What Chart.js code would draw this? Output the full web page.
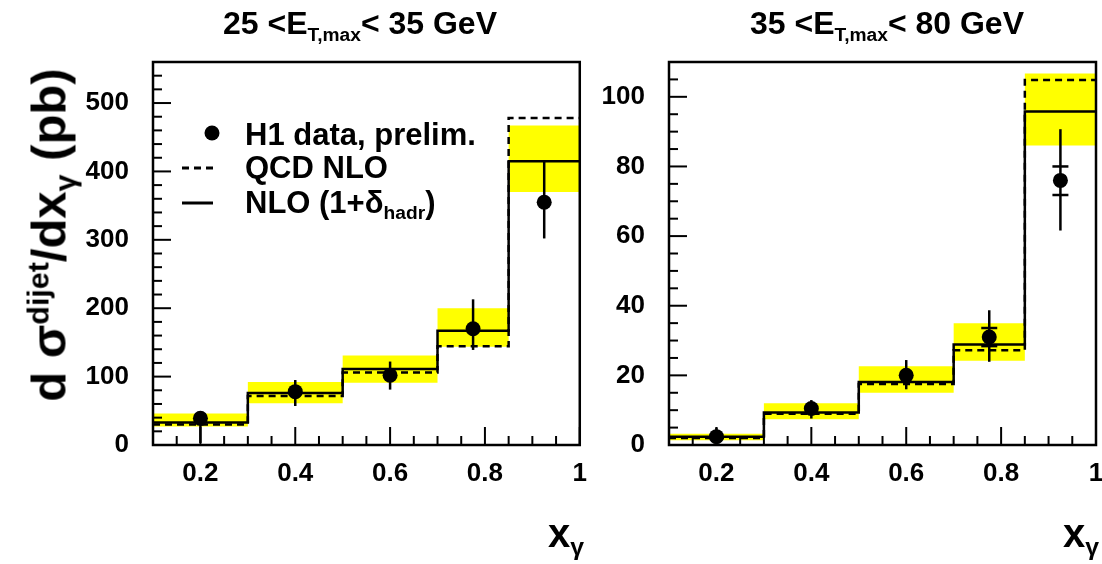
<!DOCTYPE html>
<html>
<head>
<meta charset="utf-8">
<script src="https://cdn.jsdelivr.net/npm/chart.js@4.4.1/dist/chart.umd.min.js"></script>
<style>
  html, body { margin: 0; padding: 0; background: #fff; overflow: hidden; }
  body { width: 1102px; height: 564px; position: relative; font-family: 'Liberation Sans', Arial, sans-serif; font-weight: bold; color: #000; }
  .panel { position: absolute; top: 0; height: 564px; }
  .txt { position: absolute; white-space: nowrap; line-height: 1; z-index: 2; }
  .txt sub { font-size: 0.62em; vertical-align: -0.32em; line-height: 0; }
  .txt sup { font-size: 0.62em; vertical-align: 0.55em; line-height: 0; }
  .title { font-size: 32px; top: 7px; transform: translateX(-50%); }
  .title sub { font-size: 0.6em; vertical-align: -0.35em; }
  .ytitle { font-size: 49px; left: 49px; top: 235px; transform: translate(-50%, -50%) rotate(-90deg); }
  .xtitle { font-size: 40px; top: 513px; }
  .leg { font-size: 31px; left: 245px; }
</style>
</head>
<body>
<div class="panel" style="left:0;width:600px"><canvas id="lowChart"></canvas></div>
<div class="panel" style="left:585px;width:540px"><canvas id="highChart"></canvas></div>

<div class="txt title" style="left:360px">25 &lt;E<sub>T,max</sub>&lt; 35 GeV</div>
<div class="txt title" style="left:887px">35 &lt;E<sub>T,max</sub>&lt; 80 GeV</div>
<div class="txt ytitle">d &sigma;<sup>dijet</sup>/dx<sub>&gamma;</sub> (pb)</div>
<div class="txt xtitle" style="left:548px">x<sub>&gamma;</sub></div>
<div class="txt xtitle" style="left:1063px">x<sub>&gamma;</sub></div>
<div class="txt leg" style="top:119px">H1 data, prelim.</div>
<div class="txt leg" style="top:152px">QCD NLO</div>
<div class="txt leg" style="top:187px">NLO (1+&delta;<sub>hadr</sub>)</div>

<script>
// bin edges and bin centres of x_gamma
const xEdges = [0.1, 0.3, 0.5, 0.7, 0.85, 1.0];
const xCenters = [0.2, 0.4, 0.6, 0.775, 0.925];
const xTickLabels = [0.2, 0.4, 0.6, 0.8, 1];

// 25 < ET,max < 35 GeV
const lowData = [39, 78, 102, 170, 355];
const lowErrDown = [3, 57, 81, 139, 302];
const lowErrUp = [46, 95, 122, 213, 416];
const lowNlo = [30, 71.5, 106, 144.5, 478];
const lowNloHadr = [33, 76, 111, 167, 415];
const lowBandDown = [27, 61, 91, 143.5, 370];
const lowBandUp = [46, 92, 131, 200, 467];
const lowYTicks = [0, 100, 200, 300, 400, 500];

// 35 < ET,max < 80 GeV
const highData = [2.4, 10.5, 20, 31, 76];
const highErrDown = [0.5, 7.6, 16, 23.9, 61.6];
const highErrUp = [5, 12.9, 24.4, 38.7, 90.7];
const highStatDown = [null, null, null, 28.4, 71.8];
const highStatUp = [null, null, null, 33.6, 80];
const highNlo = [2, 9.0, 17.5, 27.2, 104.8];
const highNloHadr = [2.4, 9.3, 18.1, 28.9, 95.8];
const highBandDown = [1.4, 7.4, 15, 24.2, 86];
const highBandUp = [3.2, 12, 22.6, 35, 106.7];
const highYTicks = [0, 20, 40, 60, 80, 100];

const tickFont = { family: "'Liberation Sans', Arial, sans-serif", size: 26, weight: 'bold' };

// histogram as a stepped line: value of each bin held until the next edge
function stepPoints(values) {
    return xEdges.map((x, i) => ({ x, y: values[Math.min(i, values.length - 1)] }));
}

const decorPlugin = {
    id: 'h1Decor',
    afterDatasetsDraw(chart, args, opts) {
        const { ctx, chartArea: a, scales: { x, y } } = chart;
        ctx.save();
        ctx.strokeStyle = '#000';
        ctx.lineCap = 'butt';

        // total error bars and inner (statistical) caps
        ctx.lineWidth = 2.5;
        xCenters.forEach((xv, i) => {
            const px = x.getPixelForValue(xv);
            ctx.beginPath();
            ctx.moveTo(px, y.getPixelForValue(opts.errUp[i]));
            ctx.lineTo(px, y.getPixelForValue(opts.errDown[i]));
            ctx.stroke();
            [opts.statUp, opts.statDown].forEach(arr => {
                if (arr && arr[i] != null) {
                    const py = y.getPixelForValue(arr[i]);
                    ctx.beginPath();
                    ctx.moveTo(px - 8, py);
                    ctx.lineTo(px + 8, py);
                    ctx.stroke();
                }
            });
        });

        // inward ticks
        ctx.lineWidth = 2;
        const near = (v, step) => Math.abs(v / step - Math.round(v / step)) < 1e-6;
        for (let v = x.min; v <= x.max + 1e-9; v += 0.05) {
            const px = x.getPixelForValue(v);
            const len = near(v, 0.2) ? 18 : 9;
            ctx.beginPath();
            ctx.moveTo(px, a.bottom);
            ctx.lineTo(px, a.bottom - len);
            ctx.stroke();
        }
        for (let v = y.min; v <= y.max + 1e-9; v += opts.yMinor) {
            const py = y.getPixelForValue(v);
            const len = near(v, opts.yMajor) ? 18 : 9;
            ctx.beginPath();
            ctx.moveTo(a.left, py);
            ctx.lineTo(a.left + len, py);
            ctx.stroke();
        }

        // frame
        ctx.lineWidth = 2.5;
        ctx.strokeRect(a.left, a.top, a.right - a.left, a.bottom - a.top);

        // legend symbols
        if (opts.legend) {
            const lx = a.left;
            const ly = a.top;
            ctx.fillStyle = '#000';
            ctx.beginPath();
            ctx.arc(lx + 59, ly + 71, 7.5, 0, Math.PI * 2);
            ctx.fill();
            ctx.lineWidth = 3;
            ctx.setLineDash([7, 5]);
            ctx.beginPath();
            ctx.moveTo(lx + 29, ly + 106);
            ctx.lineTo(lx + 60, ly + 106);
            ctx.stroke();
            ctx.setLineDash([]);
            ctx.beginPath();
            ctx.moveTo(lx + 29, ly + 141);
            ctx.lineTo(lx + 60, ly + 141);
            ctx.stroke();
        }
        ctx.restore();
    }
};

function drawPanel(canvasId, p) {
    const ctx = document.getElementById(canvasId).getContext('2d');
    return new Chart(ctx, {
        type: 'line',
        data: {
            datasets: [
                {
                    label: 'H1 data, prelim.',
                    data: xCenters.map((xv, i) => ({ x: xv, y: p.data[i] })),
                    showLine: false,
                    pointRadius: 7.5,
                    pointBackgroundColor: '#000',
                    pointBorderWidth: 0,
                    order: 0
                },
                {
                    label: 'NLO (1+delta hadr)',
                    data: stepPoints(p.nloHadr),
                    stepped: true,
                    borderColor: '#000',
                    borderWidth: 2.5,
                    pointRadius: 0,
                    fill: false,
                    order: 1
                },
                {
                    label: 'QCD NLO',
                    data: stepPoints(p.nlo),
                    stepped: true,
                    borderColor: '#000',
                    borderWidth: 2.5,
                    borderDash: [7, 5],
                    pointRadius: 0,
                    fill: false,
                    order: 2
                },
                {
                    label: 'band up',
                    data: stepPoints(p.bandUp),
                    stepped: true,
                    borderColor: 'rgba(0,0,0,0)',
                    borderWidth: 0,
                    backgroundColor: '#ffff00',
                    pointRadius: 0,
                    fill: '+1',
                    order: 3
                },
                {
                    label: 'band down',
                    data: stepPoints(p.bandDown),
                    stepped: true,
                    borderColor: 'rgba(0,0,0,0)',
                    borderWidth: 0,
                    pointRadius: 0,
                    fill: false,
                    order: 4
                }
            ]
        },
        options: {
            responsive: true,
            maintainAspectRatio: false,
            animation: false,
            layout: { padding: { left: 0, right: p.padRight, top: 62, bottom: 0 } },
            scales: {
                x: {
                    type: 'linear',
                    min: 0.1,
                    max: 1.0,
                    afterBuildTicks: s => { s.ticks = xTickLabels.map(v => ({ value: v })); },
                    afterFit: s => { s.height = 119; },
                    grid: { display: false, drawTicks: false },
                    border: { display: false },
                    ticks: {
                        font: tickFont,
                        color: '#000',
                        padding: 13,
                        maxRotation: 0,
                        callback: v => String(+v.toFixed(2))
                    }
                },
                y: {
                    type: 'linear',
                    min: 0,
                    max: p.yMax,
                    afterBuildTicks: s => { s.ticks = p.yTicks.map(v => ({ value: v })); },
                    afterFit: s => { s.width = p.yWidth; },
                    grid: { display: false, drawTicks: false },
                    border: { display: false },
                    ticks: { font: tickFont, color: '#000', padding: 24 }
                }
            },
            plugins: {
                legend: { display: false },
                tooltip: { enabled: false },
                filler: { drawTime: 'beforeDatasetsDraw', propagate: false },
                h1Decor: {
                    errUp: p.errUp,
                    errDown: p.errDown,
                    statUp: p.statUp,
                    statDown: p.statDown,
                    yMinor: p.yMinor,
                    yMajor: p.yMajor,
                    legend: p.legend
                }
            }
        },
        plugins: [decorPlugin]
    });
}

drawPanel('lowChart', {
    data: lowData, errUp: lowErrUp, errDown: lowErrDown,
    nlo: lowNlo, nloHadr: lowNloHadr, bandUp: lowBandUp, bandDown: lowBandDown,
    yMax: 560, yTicks: lowYTicks, yMinor: 20, yMajor: 100,
    yWidth: 153, padRight: 20, legend: true
});

drawPanel('highChart', {
    data: highData, errUp: highErrUp, errDown: highErrDown,
    statUp: highStatUp, statDown: highStatDown,
    nlo: highNlo, nloHadr: highNloHadr, bandUp: highBandUp, bandDown: highBandDown,
    yMax: 110, yTicks: highYTicks, yMinor: 5, yMajor: 20,
    yWidth: 84, padRight: 29, legend: false
});
</script>
</body>
</html>
